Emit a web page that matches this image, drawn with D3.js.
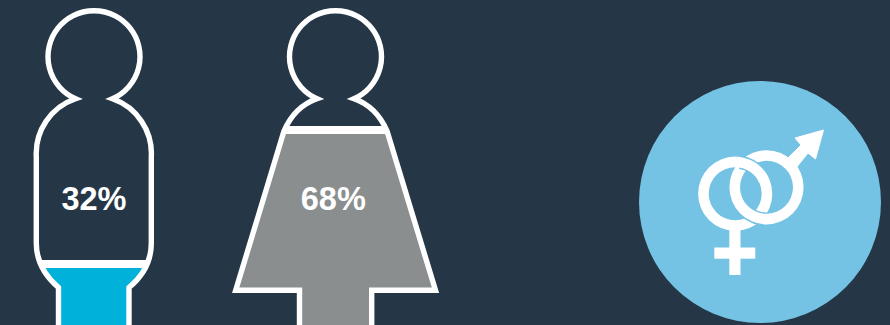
<!DOCTYPE html>
<html>
<head>
<meta charset="utf-8">
<script src="https://cdnjs.cloudflare.com/ajax/libs/d3/7.8.5/d3.min.js"></script>
<style>
  html, body { margin: 0; padding: 0; background: #253647; overflow: hidden; }
  svg { display: block; }
</style>
</head>
<body>
<svg id="chart" width="890" height="325"></svg>
<script>
// Gender split shown as two filled pictograms
const genders = ["Male", "Female"];
const shares = [32, 68];
const fills = ["#00b1d9", "#8a8e8e"];
const labelX = [94, 333.3];

const background = "#253647";
const badgeColor = "#74c2e4";
const white = "#ffffff";

// Silhouette outlines, one for each figure
const outlines = {
  Male: "M75.5 98.8 A46 46 0 1 1 112.5 98.8 A58 58 0 0 1 151.3 157 L151.3 243 C151.3 262 143 276 129 287.5 L129 340 L58.5 340 L58.5 287.5 C45 276 36.3 262 36.3 243 L36.3 157 A58 58 0 0 1 75.5 98.8 Z",
  Female: "M317 98.8 A46 46 0 1 1 354 98.8 C369 104 380 115 387 131 L435.5 290.3 L371.7 290.3 L371.7 340 L299.5 340 L299.5 290.3 L235.7 290.3 L284 131 C291 115 302 104 317 98.8 Z"
};

const svg = d3.select("#chart");
svg.append("rect").attr("width", 890).attr("height", 325).attr("fill", background);

// The fill level runs over the full height of a figure, feet below the frame
const level = d3.scaleLinear().domain([0, 100]).range([383, 11]);

const defs = svg.append("defs");
defs.selectAll("clipPath")
  .data(genders)
  .join("clipPath")
  .attr("id", d => "clip-" + d)
  .append("path")
  .attr("d", d => outlines[d]);

const figures = svg.selectAll("g.figure")
  .data(genders.map((g, i) => ({ g, share: shares[i], fill: fills[i], x: labelX[i] })))
  .join("g")
  .attr("class", "figure");

figures.append("rect")
  .attr("clip-path", d => `url(#clip-${d.g})`)
  .attr("x", 0)
  .attr("width", 500)
  .attr("y", d => level(d.share))
  .attr("height", d => 400 - level(d.share))
  .attr("fill", d => d.fill);

figures.append("line")
  .attr("clip-path", d => `url(#clip-${d.g})`)
  .attr("x1", 0).attr("x2", 500)
  .attr("y1", d => level(d.share))
  .attr("y2", d => level(d.share))
  .attr("stroke", white)
  .attr("stroke-width", 8);

figures.append("path")
  .attr("d", d => outlines[d.g])
  .attr("fill", "none")
  .attr("stroke", white)
  .attr("stroke-width", 5.4)
  .attr("stroke-linejoin", "miter")
  .attr("stroke-miterlimit", 12);

figures.append("text")
  .attr("x", d => d.x)
  .attr("y", 210)
  .attr("text-anchor", "middle")
  .attr("font-family", "'Liberation Sans', Arial, sans-serif")
  .attr("font-weight", 700)
  .attr("font-size", 32.5)
  .attr("fill", white)
  .text(d => d.share + "%");

// Badge with the interlocked gender symbols
svg.append("circle")
  .attr("cx", 760).attr("cy", 202).attr("r", 121)
  .attr("fill", badgeColor);

const badge = svg.append("g");
const ringR = 31.8, ringW = 10.6, casing = 13.4;
const venus = [735.2, 193.7], mars = [766.5, 187.3];

const ringArc = (width, a0, a1) => d3.arc()
  .innerRadius(ringR - width / 2)
  .outerRadius(ringR + width / 2)
  .startAngle(a0)
  .endAngle(a1)();

const TAU = 2 * Math.PI;
const addArc = (c, width, a0, a1, color) =>
  badge.append("path")
    .attr("transform", `translate(${c[0]},${c[1]})`)
    .attr("d", ringArc(width, a0, a1))
    .attr("fill", color);

// Venus stem and bar
badge.append("rect").attr("x", 729.3).attr("y", 222).attr("width", 11.2).attr("height", 53).attr("fill", white);
badge.append("rect").attr("x", 714.3).attr("y", 247.5).attr("width", 41).attr("height", 11.2).attr("fill", white);

// Mars shaft and arrowhead
badge.append("path")
  .attr("d", "M786 160 L801 145 L795 138 L823.5 130 L815.5 159 L808 153 L796 168 Z")
  .attr("fill", white)
  .attr("stroke", white)
  .attr("stroke-width", 1)
  .attr("stroke-linejoin", "round");

// Venus ring goes under Mars at the lower crossing and over it at the upper one
addArc(venus, ringW, 0, TAU, white);
addArc(mars, casing, Math.PI * 0.95, Math.PI * 1.2, badgeColor);
addArc(mars, ringW, 0, TAU, white);
addArc(venus, casing, Math.PI * 0.05, Math.PI * 0.32, badgeColor);
addArc(venus, ringW, Math.PI * 0.02, Math.PI * 0.36, white);
</script>
</body>
</html>
